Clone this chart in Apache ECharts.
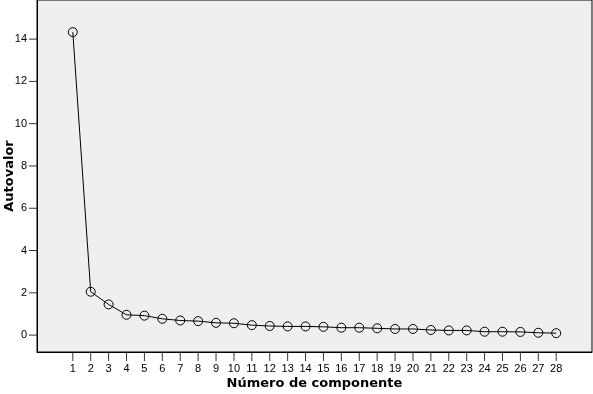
<!DOCTYPE html>
<html>
<head>
<meta charset="utf-8">
<script src="https://cdn.jsdelivr.net/npm/echarts@6/dist/echarts.min.js"></script>
<style>html,body{margin:0;padding:0;background:#fff;}#c{width:593px;height:394px;}</style>
</head>
<body>
<div id="c"></div>
<script>
var components = [1,2,3,4,5,6,7,8,9,10,11,12,13,14,15,16,17,18,19,20,21,22,23,24,25,26,27,28];
var eigenvalues = [14.33,2.05,1.45,0.96,0.92,0.77,0.69,0.66,0.58,0.56,0.47,0.43,0.41,0.41,0.39,0.35,0.35,0.32,0.29,0.29,0.24,0.22,0.22,0.16,0.16,0.15,0.11,0.09];
var yTicks = [0,2,4,6,8,10,12,14];
var xTitle = 'Número de componente';
var yTitle = 'Autovalor';

var X_MIN = -1, X_MAX = 30, Y_MIN = -0.8, Y_MAX = 15.85;

var chart = echarts.init(document.getElementById('c'), null, {renderer:'canvas'});
var labelFont = {fontFamily:"'Liberation Sans', Arial, sans-serif", fontSize:11, color:'#000'};
var nameFont = {fontFamily:'DejaVu Sans',fontWeight:'bold',fontSize:13,color:'#000'};

chart.setOption({
  animation:false,
  backgroundColor:'#fff',
  grid:[
    {left:37,top:0,right:1,bottom:42,show:true,backgroundColor:'#F0EEF0',borderColor:'#000',borderWidth:1,containLabel:false,outerBoundsMode:'none'},
    {left:37,top:352,right:1,height:9,show:false,containLabel:false,outerBoundsMode:'none'},
    {left:29,top:0,width:8,bottom:42,show:false,containLabel:false,outerBoundsMode:'none'}
  ],
  xAxis:[{
    gridIndex:0,type:'value',min:X_MIN,max:X_MAX,
    axisLine:{show:true,onZero:false,lineStyle:{color:'#000',width:1}},
    splitLine:{show:false},
    axisTick:{show:false},
    axisLabel:Object.assign({customValues:components,margin:11},labelFont),
    name:xTitle,nameLocation:'middle',nameGap:25,nameMoveOverlap:false,
    nameTextStyle:nameFont
  },{
    gridIndex:1,type:'value',min:X_MIN,max:X_MAX,show:false
  },{
    gridIndex:2,type:'value',min:0,max:1,show:false
  }],
  yAxis:[{
    gridIndex:0,type:'value',min:Y_MIN,max:Y_MAX,
    axisLine:{show:true,onZero:false,lineStyle:{color:'#000',width:1}},
    splitLine:{show:false},
    axisTick:{show:false},
    axisLabel:Object.assign({customValues:yTicks,margin:10},labelFont),
    name:yTitle,nameLocation:'middle',nameGap:21,nameMoveOverlap:false,
    nameTextStyle:nameFont
  },{
    gridIndex:1,type:'value',min:0,max:1,show:false
  },{
    gridIndex:2,type:'value',min:Y_MIN,max:Y_MAX,show:false
  }],
  series:[{
    type:'line',
    xAxisIndex:0,yAxisIndex:0,
    data:components.map(function(c,i){return [c,eigenvalues[i]];}),
    symbol:'circle',symbolSize:9,
    lineStyle:{color:'#000',width:1},
    itemStyle:{color:'rgba(0,0,0,0)',borderColor:'#000',borderWidth:1},
    emphasis:{disabled:true}
  },{
    type:'scatter',
    xAxisIndex:1,yAxisIndex:1,
    data:components.map(function(c){return [c,0.5];}),
    symbol:'rect',symbolSize:[1,9],
    itemStyle:{color:'#000'},
    silent:true,z:10
  },{
    type:'scatter',
    xAxisIndex:2,yAxisIndex:2,
    data:yTicks.map(function(v){return [0.5,v];}),
    symbol:'rect',symbolSize:[8,1],
    itemStyle:{color:'#000'},
    silent:true,z:10
  }]
});
</script>
</body>
</html>
